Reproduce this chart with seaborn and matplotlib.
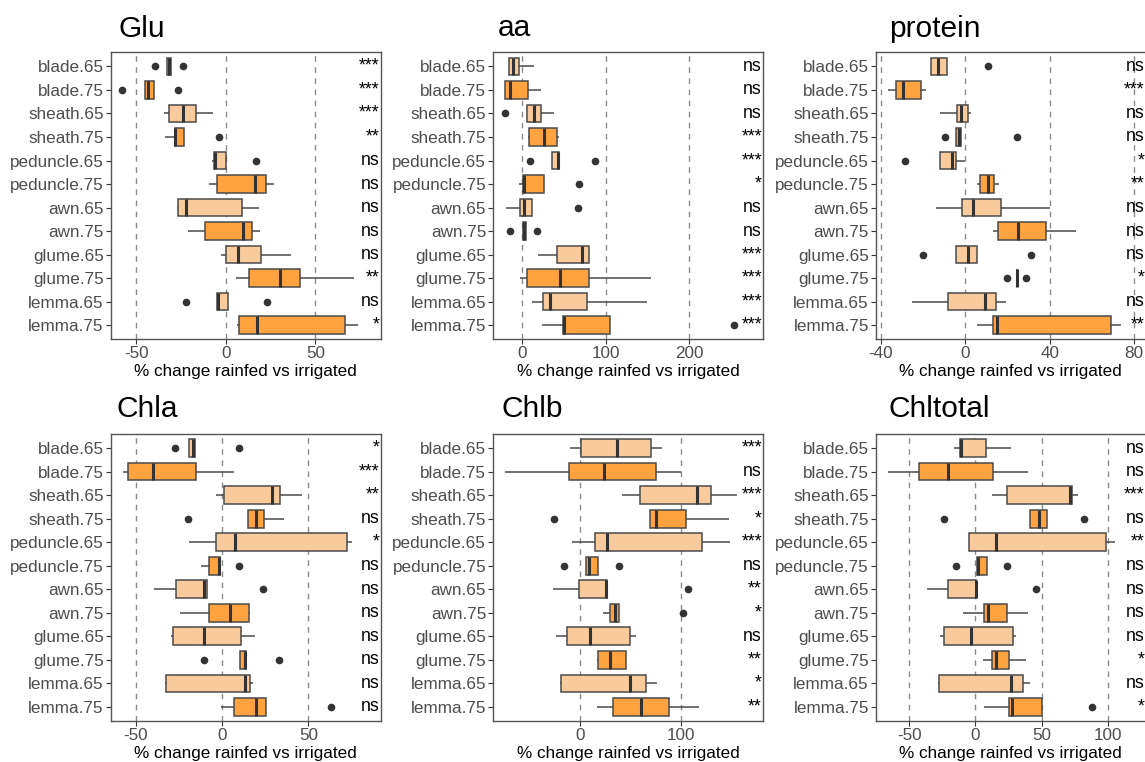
import numpy as np
import pandas as pd
import matplotlib
matplotlib.use("Agg")
import matplotlib.pyplot as plt
import matplotlib.transforms as mtransforms
import seaborn as sns

# organ x stage, top to bottom
tissues = ["blade.65", "blade.75", "sheath.65", "sheath.75",
           "peduncle.65", "peduncle.75", "awn.65", "awn.75",
           "glume.65", "glume.75", "lemma.65", "lemma.75"]

# % change rainfed vs irrigated (one list per box)
glu = [[-39.5, -33.1, -31.5, -30.4, -24.0],
       [-57.9, -44.9, -43.6, -40.0, -26.6],
       [-34.5, -31.7, -24.0, -16.6, -7.1],
       [-34.1, -28.5, -28.1, -23.6, -3.9],
       [-7.6, -6.7, -6.0, 0.0, 17.1],
       [-9.1, -4.8, 16.6, 22.5, 26.8],
       [-27.5, -26.6, -22.2, 9.1, 18.6],
       [-20.9, -11.5, 9.5, 14.7, 19.2],
       [-2.8, 0.4, 6.7, 19.4, 36.3],
       [5.8, 12.7, 30.5, 41.3, 71.7],
       [-22.3, -4.8, -4.5, 1.5, 23.1],
       [6.1, 7.3, 17.7, 66.7, 73.6]]
glu_sig = ["***", "***", "***", "**", "ns", "ns", "ns", "ns", "ns", "**", "ns", "*"]

aa = [[-15.8, -15.6, -10.8, -3.6, 14.0],
      [-21.2, -20.8, -14.8, 7.2, 22.4],
      [-21.0, 6.0, 14.0, 22.8, 38.3],
      [6.8, 8.4, 25.9, 41.9, 44.3],
      [8.8, 35.5, 42.3, 43.9, 86.6],
      [-4.0, 1.2, 2.0, 25.5, 67.5],
      [-19.6, -2.8, 2.0, 11.2, 66.3],
      [-14.8, 0.4, 2.4, 4.4, 17.2],
      [18.4, 41.9, 71.1, 80.2, 80.2],
      [-2.8, 5.2, 45.1, 80.2, 153.7],
      [11.6, 25.1, 33.1, 77.0, 148.9],
      [24.0, 49.1, 49.5, 104.6, 253.5]]
aa_sig = ["ns", "ns", "ns", "***", "***", "*", "ns", "ns", "***", "***", "***", "***"]

protein = [[-16.3, -16.1, -12.6, -8.4, 10.9],
           [-36.6, -32.8, -29.5, -20.7, -18.3],
           [-11.7, -3.9, -2.1, 1.3, 3.0],
           [-9.3, -4.4, -3.0, -1.9, 24.6],
           [-28.4, -11.8, -6.2, -4.4, 0.0],
           [5.8, 7.1, 11.0, 13.9, 16.2],
           [-13.7, -1.7, 3.9, 17.0, 40.1],
           [13.1, 15.5, 24.9, 38.5, 52.7],
           [-19.9, -4.3, 1.3, 5.8, 31.2],
           [19.9, 24.4, 24.4, 24.4, 28.7],
           [-25.1, -7.9, 9.5, 14.8, 19.2],
           [5.4, 13.2, 15.1, 69.2, 73.8]]
protein_sig = ["ns", "***", "ns", "ns", "*", "**", "ns", "ns", "ns", "*", "ns", "**"]

chla = [[-27.2, -19.3, -16.6, -15.6, 10.0],
        [-57.2, -54.7, -40.1, -15.2, 6.9],
        [-3.5, 1.3, 28.9, 33.5, 46.2],
        [-19.8, 15.0, 19.8, 24.1, 36.0],
        [-19.3, -3.3, 7.3, 72.4, 75.3],
        [-12.1, -7.5, -1.9, -1.2, 10.0],
        [-39.3, -26.8, -10.6, -8.7, 23.5],
        [-24.3, -7.7, 4.4, 15.4, 16.4],
        [-29.3, -28.7, -10.6, 10.8, 18.9],
        [-10.2, 10.4, 13.3, 13.9, 33.1],
        [-32.8, -32.6, 13.1, 16.4, 18.1],
        [-0.6, 6.7, 19.5, 25.2, 63.0]]
chla_sig = ["*", "***", "**", "ns", "*", "ns", "ns", "ns", "ns", "ns", "ns", "ns"]

chlb = [[-9.9, 1.0, 36.3, 70.3, 81.8],
        [-74.3, -10.6, 24.1, 75.6, 100.0],
        [41.6, 59.1, 115.5, 129.4, 155.4],
        [-26.1, 69.0, 74.9, 105.3, 147.2],
        [-7.6, 14.9, 26.4, 120.5, 148.5],
        [-16.2, 5.9, 8.9, 18.2, 39.0],
        [-26.7, -1.3, 25.7, 26.7, 106.9],
        [23.1, 29.4, 35.0, 38.6, 101.7],
        [-23.4, -12.5, 10.2, 49.5, 55.4],
        [17.2, 18.2, 29.4, 45.5, 45.5],
        [-19.8, -18.5, 49.5, 65.3, 75.9],
        [17.2, 33.0, 60.1, 88.4, 118.2]]
chlb_sig = ["***", "ns", "***", "*", "***", "ns", "**", "*", "ns", "**", "*", "**"]

chltotal = [[-16.1, -11.6, -10.8, 8.3, 26.7],
            [-66.2, -42.3, -20.6, 13.6, 39.7],
            [12.6, 23.6, 71.4, 72.7, 77.2],
            [-23.6, 41.3, 47.8, 54.3, 82.3],
            [-5.0, -4.8, 15.3, 98.9, 105.7],
            [-14.3, 1.5, 2.3, 8.6, 23.9],
            [-36.2, -20.6, 0.3, 0.8, 46.0],
            [-9.6, 6.8, 9.8, 23.6, 39.5],
            [-26.7, -23.6, -3.0, 28.4, 30.9],
            [5.5, 12.8, 15.6, 25.2, 38.2],
            [-27.9, -27.7, 26.9, 36.0, 41.3],
            [6.5, 25.7, 27.4, 50.1, 88.0]]
chltotal_sig = ["ns", "ns", "***", "ns", "**", "ns", "ns", "ns", "ns", "*", "ns", "*"]

titles = ["Glu", "aa", "protein", "Chla", "Chlb", "Chltotal"]
values = [glu, aa, protein, chla, chlb, chltotal]
sigs = [glu_sig, aa_sig, protein_sig, chla_sig, chlb_sig, chltotal_sig]
xlims = [(-64.4, 86.6), (-35.1, 288.6), (-42.3, 85.6),
         (-64.6, 91.9), (-86.0, 181.6), (-75.2, 128.8)]
xticks = [[-50, 0, 50], [0, 100, 200], [-40, 0, 40, 80],
          [-50, 0, 50], [0, 100], [-50, 0, 50, 100]]

light, dark = "#F9CB9C", "#FEA340"
palette = {t: (light if t.endswith(".65") else dark) for t in tissues}

sns.set_theme(style="white")
plt.rcParams["font.family"] = ["Liberation Sans", "DejaVu Sans"]
plt.rcParams["axes.unicode_minus"] = False

W, H = 1145, 762
fig = plt.figure(figsize=(W / 100, H / 100), dpi=100)

# panel geometry in pixels
lefts = [110.5, 493.0, 875.7]
pw = 270.3
row_bottoms = [339.3, 721.0]
ph = 287.0
title_x = [118.5, 497.5, 889.0, 116.0, 501.5, 888.5]
title_base = [36.7, 36.2, 36.7, 417.3, 417.3, 417.3]

for i in range(6):
    r, c = divmod(i, 3)
    ax = fig.add_axes([lefts[c] / W, 1 - row_bottoms[r] / H, pw / W, ph / H])
    vals = values[i]
    df = pd.DataFrame({
        "tissue": np.repeat(tissues, [len(v) for v in vals]),
        "value": np.concatenate(vals),
    })

    for t in xticks[i]:
        ax.axvline(t, color="#8a8a8a", lw=1.0, ls=(0, (4, 4)), zorder=0)

    sns.boxplot(data=df, x="value", y="tissue", hue="tissue",
                order=tissues, hue_order=tissues, palette=palette,
                width=0.75, linecolor="#4a4a4a", linewidth=1.1,
                showcaps=False, saturation=1, legend=False,
                medianprops=dict(color="#333333", linewidth=2.2),
                flierprops=dict(marker="o", markersize=4.5,
                                markerfacecolor="#333333",
                                markeredgecolor="#333333"),
                ax=ax)

    ax.set_xlim(*xlims[i])
    ax.set_ylim(11.6, -0.6)
    ax.set_xticks(xticks[i])
    ax.set_ylabel("")
    ax.set_xlabel("% change rainfed vs irrigated", fontsize=12.3,
                  color="black", labelpad=2)
    ax.tick_params(axis="both", labelsize=12.3, labelcolor="#4D4D4D",
                   color="#333333", length=3.5, width=0.8, pad=1.5,
                   left=True, bottom=True)
    for sp in ax.spines.values():
        sp.set_color("#555555")
        sp.set_linewidth(1.0)

    trans = mtransforms.blended_transform_factory(ax.transAxes, ax.transData)
    for j, s in enumerate(sigs[i]):
        ax.text(0.995, j, s, transform=trans, ha="right", va="center",
                fontsize=12.8, color="black")

    fig.text(title_x[i] / W, 1 - title_base[i] / H, titles[i],
             fontsize=21.5, ha="left", va="baseline", color="black")

fig.savefig("out.png", dpi=100)
